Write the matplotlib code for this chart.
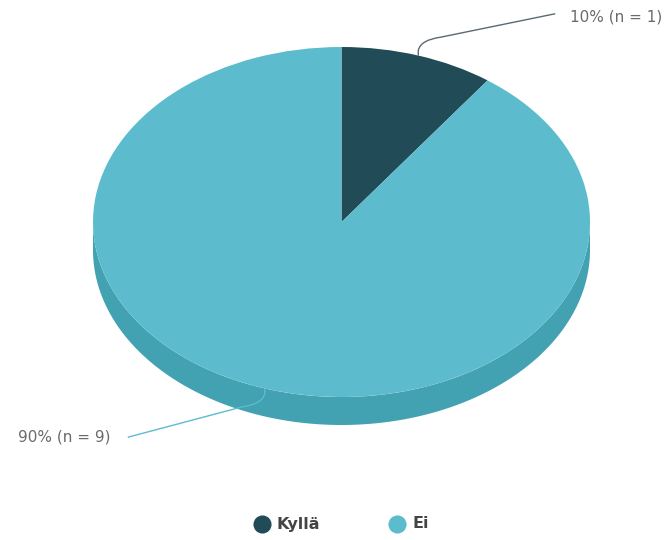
import numpy as np
import matplotlib.pyplot as plt
from matplotlib.path import Path
from matplotlib.patches import PathPatch

labels = ["Kyllä", "Ei"]
counts = [1, 9]
colors = ["#224b58", "#5cbccd"]
side_color = "#43a2b2"
line_colors = ["#5a6a70", "#5cbccd"]

W, H = 670, 540
fig = plt.figure(figsize=(W / 100, H / 100), dpi=100)

# pixel-space canvas for the legend
bg = fig.add_axes([0, 0, 1, 1])
bg.set_xlim(0, W)
bg.set_ylim(H, 0)
bg.axis("off")

# the pie lives in its own axes; unequal scaling squashes it into an ellipse
cx, cy, rx, ry = 341.5, 222, 248.5, 175
pie_ax = fig.add_axes([(cx - rx) / W, (H - cy - ry) / H, 2 * rx / W, 2 * ry / H])
depth = 28 / ry

# visible side of the disc (lower half, shifted down)
t = np.linspace(np.pi, 2 * np.pi, 200)
sx = np.concatenate([np.cos(t), np.cos(t[::-1])])
sy = np.concatenate([np.sin(t) - depth, np.sin(t[::-1])])
pie_ax.fill(sx, sy, color=side_color, lw=0, clip_on=False, zorder=0)

wedges, _ = pie_ax.pie(counts, colors=colors, startangle=90, counterclock=False,
                       wedgeprops=dict(linewidth=0), radius=1)
for w in wedges:
    w.set_clip_on(False)
pie_ax.set_aspect("auto")
pie_ax.set_xlim(-1, 1)
pie_ax.set_ylim(-1, 1)
pie_ax.axis("off")

total = sum(counts)
text_pos = [(0.92, 1.17), (-0.93, -1.23)]
for w, n, col, (tx, ty) in zip(wedges, counts, line_colors, text_pos):
    mid = np.deg2rad((w.theta1 + w.theta2) / 2)
    x0, y0 = np.cos(mid), np.sin(mid)
    s = 1 if y0 > 0 else -1
    d = 1 if tx > 0 else -1
    x1, y1 = x0, y0 + s * 0.03
    ex = tx - 0.06 if tx > 0 else tx + 0.07
    ey = ty + 0.02 if ty > 0 else ty
    verts = [(x0, y0), (x1, y1), (x1 + d * 0.01, y1 + s * 0.06),
             (x1 + d * 0.09, y1 + s * 0.075), (ex, ey)]
    codes = [Path.MOVETO, Path.LINETO, Path.CURVE3, Path.CURVE3, Path.LINETO]
    pie_ax.add_patch(PathPatch(Path(verts, codes), fill=False, ec=col, lw=1.0,
                               clip_on=False, zorder=5))
    pct = 100 * n / total
    pie_ax.text(tx, ty, f"{pct:.0f}% (n = {n})", ha="left" if tx > 0 else "right",
                va="center", fontsize=11, color="#6b6b6b", clip_on=False)

# legend
leg_x = [262, 397]
for lx, lab, col in zip(leg_x, labels, colors):
    bg.scatter([lx], [524], s=170, color=col, lw=0)
    bg.text(lx + 15, 524, lab, fontsize=11.5, fontweight="bold", color="#444444",
            va="center", ha="left")

fig.savefig("out.png", dpi=100)
